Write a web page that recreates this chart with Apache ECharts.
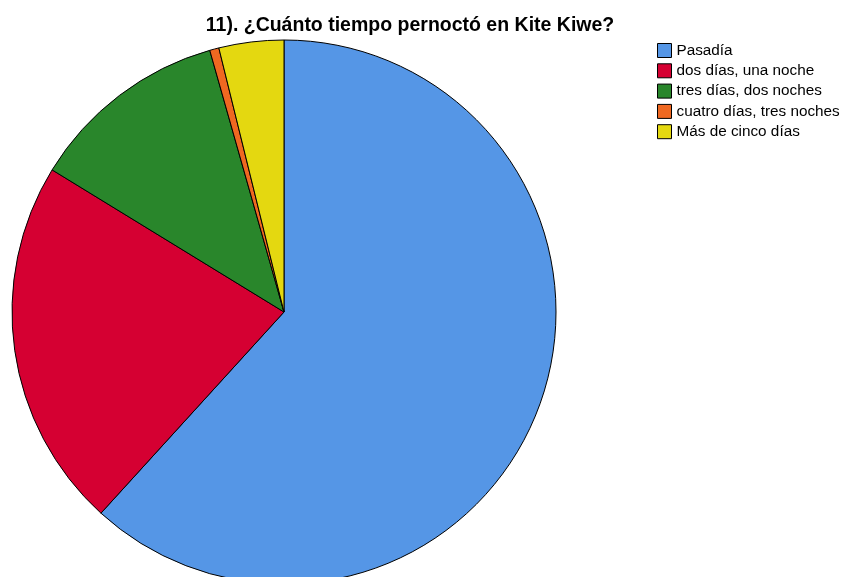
<!DOCTYPE html>
<html>
<head>
<meta charset="utf-8">
<script src="https://cdn.jsdelivr.net/npm/echarts@6/dist/echarts.min.js"></script>
<style>
  html, body { margin: 0; padding: 0; background: #fff; }
  #chart { width: 843px; height: 577px; }
</style>
</head>
<body>
<div id="chart"></div>
<script>
// categorías y porcentajes
const categories = ['Pasadía', 'dos días, una noche', 'tres días, dos noches', 'cuatro días, tres noches', 'Más de cinco días'];
const values = [61.75, 22.0, 11.85, 0.55, 3.85];
const colors = ['#5596E6', '#D50032', '#29862B', '#EF6821', '#E4D810'];

const chart = echarts.init(document.getElementById('chart'));

const option = {
    animation: false,
    title: {
        text: '11). ¿Cuánto tiempo pernoctó en Kite Kiwe?',
        left: 410,
        textAlign: 'center',
        top: 16,
        padding: 0,
        textStyle: { fontFamily: 'Liberation Sans', fontSize: 19.5, fontWeight: 'bold', color: '#000', lineHeight: 20 }
    },
    legend: {
        orient: 'vertical',
        left: 657,
        top: 43,
        padding: 0,
        itemWidth: 14,
        itemHeight: 14,
        itemGap: 5.3,
        icon: 'rect',
        itemStyle: { borderColor: '#000', borderWidth: 1 },
        textStyle: { fontFamily: 'Liberation Sans', fontSize: 15.3, color: '#000' },
        data: categories
    },
    series: [
        {
            type: 'pie',
            center: [284, 312],
            radius: 272,
            startAngle: 90,
            clockwise: true,
            label: { show: false },
            labelLine: { show: false },
            itemStyle: { borderColor: '#000', borderWidth: 1 },
            emphasis: { disabled: true },
            data: categories.map((c, i) => ({ name: c, value: values[i], itemStyle: { color: colors[i] } }))
        }
    ]
};

chart.setOption(option);
</script>
</body>
</html>
